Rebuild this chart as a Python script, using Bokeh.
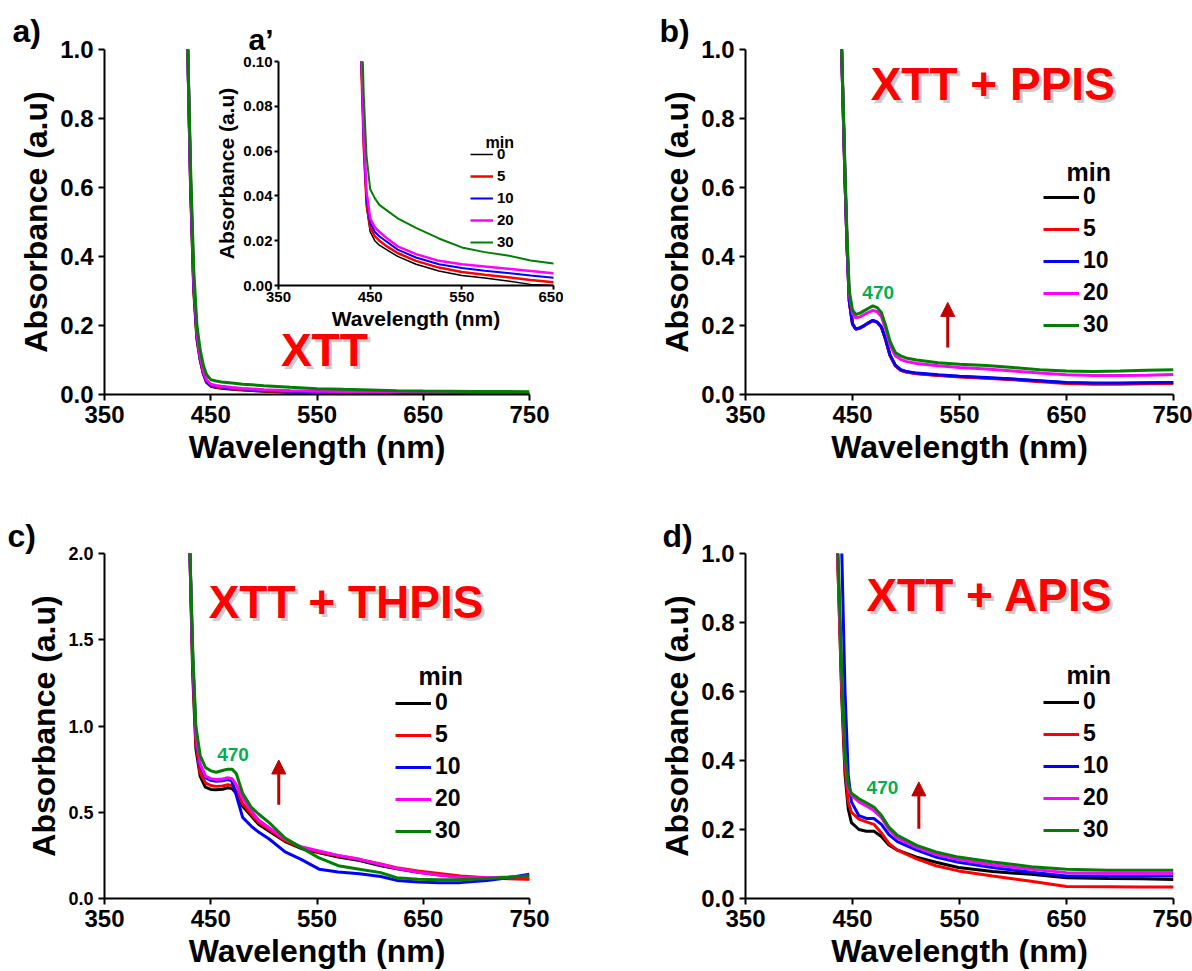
from bokeh.plotting import figure
from bokeh.models import (Label, Legend, LegendItem, Arrow, NormalHead, FixedTicker,
                          NumeralTickFormatter, Range1d, GridBox, Title)
from bokeh.embed import file_html
from bokeh.resources import INLINE

FONT = "Liberation Sans"

series_names = ["0", "5", "10", "20", "30"]
series_colors = ["#000000", "#FF0000", "#0000FF", "#FF00FF", "#008000"]

# ---------------- Panel a (XTT) and inset a' ----------------
wl_a = [428, 431, 434, 437, 440, 443, 446, 450, 455, 460, 470, 480, 500, 525, 550, 575, 600, 625, 650, 700, 750]
a_0 = [1.05, 0.60, 0.30, 0.16, 0.100, 0.060, 0.035, 0.024, 0.020, 0.018, 0.0155, 0.013, 0.0095, 0.0065, 0.0045, 0.0033, 0.0020, 0.0005, 0.0, 0.0, 0.0]
a_5 = [1.05, 0.61, 0.31, 0.165, 0.103, 0.062, 0.037, 0.026, 0.022, 0.020, 0.017, 0.0145, 0.011, 0.008, 0.006, 0.0048, 0.0037, 0.0025, 0.0015, 0.001, 0.001]
a_10 = [1.05, 0.62, 0.32, 0.17, 0.106, 0.065, 0.039, 0.028, 0.024, 0.022, 0.019, 0.016, 0.0125, 0.0095, 0.0078, 0.0066, 0.0056, 0.0045, 0.0035, 0.003, 0.003]
a_20 = [1.05, 0.63, 0.33, 0.175, 0.11, 0.068, 0.042, 0.030, 0.026, 0.024, 0.0205, 0.0175, 0.014, 0.011, 0.0095, 0.0085, 0.0075, 0.0065, 0.0055, 0.005, 0.0045]
a_30 = [1.05, 0.66, 0.36, 0.20, 0.13, 0.085, 0.058, 0.043, 0.039, 0.036, 0.033, 0.030, 0.0257, 0.021, 0.017, 0.0149, 0.0134, 0.0112, 0.0098, 0.009, 0.008]

# ---------------- Panel b (XTT + PPIS) ----------------
wl_b = [439, 441, 443, 445, 447, 450, 453, 457, 461, 465, 469, 473, 477, 481, 485, 490, 495, 500, 510, 530, 550, 575, 600, 625, 650, 675, 700, 725, 750]
b_0 = [1.10, 0.86, 0.62, 0.42, 0.27, 0.205, 0.190, 0.193, 0.200, 0.208, 0.215, 0.210, 0.196, 0.159, 0.114, 0.084, 0.071, 0.066, 0.061, 0.056, 0.052, 0.048, 0.044, 0.039, 0.034, 0.032, 0.032, 0.033, 0.034]
b_5 = [1.10, 0.86, 0.62, 0.42, 0.27, 0.204, 0.189, 0.192, 0.199, 0.207, 0.214, 0.209, 0.195, 0.158, 0.113, 0.083, 0.070, 0.065, 0.060, 0.055, 0.051, 0.047, 0.043, 0.037, 0.032, 0.030, 0.030, 0.031, 0.032]
b_10 = [1.10, 0.86, 0.62, 0.42, 0.27, 0.205, 0.190, 0.193, 0.200, 0.208, 0.215, 0.210, 0.196, 0.160, 0.115, 0.085, 0.072, 0.067, 0.062, 0.057, 0.053, 0.049, 0.045, 0.040, 0.035, 0.033, 0.033, 0.034, 0.035]
b_20 = [1.10, 0.87, 0.64, 0.44, 0.29, 0.235, 0.222, 0.225, 0.232, 0.238, 0.244, 0.240, 0.226, 0.190, 0.145, 0.112, 0.102, 0.096, 0.090, 0.083, 0.078, 0.074, 0.068, 0.062, 0.057, 0.055, 0.055, 0.056, 0.058]
b_30 = [1.10, 0.88, 0.65, 0.45, 0.30, 0.245, 0.232, 0.236, 0.243, 0.250, 0.257, 0.252, 0.238, 0.200, 0.155, 0.122, 0.112, 0.106, 0.100, 0.092, 0.088, 0.084, 0.078, 0.072, 0.068, 0.067, 0.068, 0.070, 0.072]

# ---------------- Panel c (XTT + THPIS) ----------------
wl_c = [430, 433, 436, 440, 445, 450, 455, 461, 466, 470, 474, 480, 488, 495, 505, 520, 535, 552, 570, 590, 610, 625, 645, 665, 685, 710, 730, 750]
c_0 = [2.1, 1.3, 0.87, 0.71, 0.645, 0.632, 0.63, 0.633, 0.642, 0.638, 0.61, 0.535, 0.48, 0.43, 0.39, 0.33, 0.29, 0.265, 0.24, 0.22, 0.19, 0.172, 0.152, 0.138, 0.125, 0.118, 0.116, 0.115]
c_5 = [2.1, 1.35, 0.90, 0.73, 0.67, 0.655, 0.65, 0.652, 0.66, 0.655, 0.625, 0.55, 0.49, 0.44, 0.40, 0.335, 0.295, 0.27, 0.248, 0.227, 0.20, 0.178, 0.16, 0.145, 0.13, 0.12, 0.115, 0.112]
c_10 = [2.1, 1.4, 0.95, 0.77, 0.70, 0.685, 0.68, 0.683, 0.69, 0.68, 0.60, 0.47, 0.42, 0.385, 0.345, 0.27, 0.227, 0.17, 0.153, 0.143, 0.128, 0.105, 0.095, 0.092, 0.092, 0.105, 0.12, 0.141]
c_20 = [2.1, 1.4, 0.95, 0.78, 0.71, 0.695, 0.69, 0.693, 0.70, 0.695, 0.66, 0.585, 0.51, 0.455, 0.41, 0.345, 0.30, 0.275, 0.25, 0.227, 0.197, 0.175, 0.152, 0.135, 0.122, 0.12, 0.125, 0.131]
c_30 = [2.1, 1.45, 1.0, 0.83, 0.76, 0.74, 0.732, 0.742, 0.75, 0.75, 0.725, 0.61, 0.53, 0.49, 0.44, 0.35, 0.295, 0.235, 0.19, 0.17, 0.15, 0.12, 0.112, 0.109, 0.108, 0.116, 0.123, 0.131]

# ---------------- Panel d (XTT + APIS) ----------------
wl_d = [434, 437, 440, 443, 446, 449, 456, 463, 470, 477, 484, 492, 510, 528, 549, 581, 617, 650, 689, 720, 750]
d_0 = [1.2, 0.9, 0.58, 0.36, 0.26, 0.22, 0.20, 0.195, 0.195, 0.18, 0.155, 0.14, 0.12, 0.105, 0.09, 0.078, 0.07, 0.06, 0.058, 0.057, 0.055]
d_5 = [1.2, 0.9, 0.60, 0.38, 0.28, 0.25, 0.23, 0.222, 0.215, 0.19, 0.16, 0.14, 0.115, 0.095, 0.08, 0.065, 0.05, 0.035, 0.034, 0.033, 0.033]
d_10 = [1.4, 1.2, 1.0, 0.6, 0.36, 0.28, 0.24, 0.232, 0.232, 0.215, 0.185, 0.165, 0.14, 0.12, 0.105, 0.09, 0.076, 0.065, 0.065, 0.065, 0.065]
d_20 = [1.2, 0.93, 0.63, 0.41, 0.32, 0.30, 0.28, 0.268, 0.255, 0.235, 0.20, 0.175, 0.148, 0.128, 0.113, 0.098, 0.085, 0.075, 0.073, 0.073, 0.073]
d_30 = [1.2, 0.95, 0.65, 0.42, 0.33, 0.305, 0.289, 0.277, 0.265, 0.241, 0.207, 0.183, 0.154, 0.135, 0.12, 0.106, 0.092, 0.085, 0.082, 0.082, 0.082]

x_ticks = [350, 450, 550, 650, 750]
inset_x_ticks = [350, 450, 550, 650]


def make_fig(w, h, bl, br, bt, bb, xr, yr, xticks, yticks, yfmt,
             tick_font, ytick_font, label_font, lw=2, tick_out=6, std=5, lab_std=3):
    p = figure(width=w, height=h, x_range=Range1d(*xr), y_range=Range1d(*yr),
               output_backend="svg", toolbar_location=None,
               min_border_left=bl, min_border_right=br, min_border_top=bt, min_border_bottom=bb,
               x_axis_label="Wavelength (nm)", y_axis_label="Absorbance (a.u)")
    p.grid.visible = False
    p.outline_line_color = None
    p.xaxis.ticker = FixedTicker(ticks=xticks)
    p.yaxis.ticker = FixedTicker(ticks=yticks)
    p.yaxis.formatter = NumeralTickFormatter(format=yfmt)
    for ax, fs in ((p.xaxis[0], tick_font), (p.yaxis[0], ytick_font)):
        ax.axis_line_width = lw
        ax.axis_line_color = "black"
        ax.major_tick_line_width = lw
        ax.major_tick_out = tick_out
        ax.major_tick_in = 0
        ax.minor_tick_out = 0
        ax.minor_tick_in = 0
        ax.major_label_text_font = FONT
        ax.major_label_text_font_style = "bold"
        ax.major_label_text_font_size = fs
        ax.major_label_text_color = "black"
        ax.major_label_standoff = std
        ax.axis_label_text_font = FONT
        ax.axis_label_text_font_style = "bold"
        ax.axis_label_text_font_size = label_font
        ax.axis_label_text_color = "black"
        ax.axis_label_standoff = lab_std
    return p


def add_series(p, wl, ys, widths):
    rs = []
    for y, c, lw in zip(ys, series_colors, widths):
        rs.append(p.line(wl, y, line_color=c, line_width=lw))
    return rs


def add_legend(p, rs, loc, fs, gw, gh, spacing, title_x, title_y, title_fs):
    items = [LegendItem(label=n, renderers=[r]) for n, r in zip(series_names, rs)]
    lg = Legend(items=items, location=loc, padding=0, margin=0, spacing=spacing,
                glyph_width=gw, glyph_height=gh, label_height=gh, label_standoff=4,
                label_text_font=FONT, label_text_font_style="bold", label_text_font_size=fs,
                label_text_color="black",
                border_line_alpha=0, background_fill_alpha=0)
    p.add_layout(lg)
    p.add_layout(Label(x=title_x, y=title_y, x_units="screen", y_units="screen", text="min",
                       text_font=FONT, text_font_style="bold", text_font_size=title_fs,
                       text_color="black", text_baseline="middle"))


def add_title(p, x, y, text):
    p.add_layout(Label(x=x, y=y, text=text, x_offset=3, y_offset=-3, text_color="#9a9a9a",
                       text_alpha=0.5, text_font=FONT, text_font_style="bold",
                       text_font_size="46px", text_baseline="middle"))
    p.add_layout(Label(x=x, y=y, text=text, text_color="#FF0000", text_font=FONT,
                       text_font_style="bold", text_font_size="46px", text_baseline="middle"))


def add_letter(p, offset, text, fs="32px", standoff=2):
    p.add_layout(Title(text=text, align="left", offset=offset, text_font=FONT,
                       text_font_style="bold", text_font_size=fs, text_color="black",
                       standoff=standoff), "above")


def add_peak(p, x, y, text="470"):
    p.add_layout(Label(x=x, y=y, text=text, text_color="#00B050", text_font=FONT,
                       text_font_style="bold", text_font_size="19px", text_align="center",
                       text_baseline="middle"))


def add_arrow(p, x, y0, y1):
    p.add_layout(Arrow(x_start=x, y_start=y0, x_end=x, y_end=y1, line_color="#C00000", line_width=3,
                       end=NormalHead(size=14, fill_color="#C00000", line_color="#C00000", line_width=1)))


main_widths = [3, 3, 3, 3, 3]

# Panel a
pa = make_fig(596, 480, 104, 67, 49, 86, (350, 750), (0, 1), x_ticks,
              [0, 0.2, 0.4, 0.6, 0.8, 1.0], "0.0", "24px", "24px", "32px")
ra = add_series(pa, wl_a, [a_0, a_5, a_10, a_20, a_30], main_widths)
add_title(pa, 516, 0.13, "XTT")
add_letter(pa, -92, "a)")

# Panel b
pb = make_fig(596, 480, 149, 19, 49, 86, (350, 750), (0, 1), x_ticks,
              [0, 0.2, 0.4, 0.6, 0.8, 1.0], "0.0", "24px", "24px", "32px")
rb = add_series(pb, wl_b, [b_0, b_5, b_10, b_20, b_30], main_widths)
add_legend(pb, rb, (298, 56), "23px", 36, 26, 5, 321, 223, "25px")
add_title(pb, 467, 0.90, "XTT + PPIS")
add_peak(pb, 474, 0.297)
add_arrow(pb, 539, 0.136, 0.267)
add_letter(pb, -86, "b)")

# Panel c
pc = make_fig(596, 491, 104, 67, 73, 72, (350, 750), (0, 2), x_ticks,
              [0, 0.5, 1.0, 1.5, 2.0], "0.0", "24px", "18px", "32px")
rc = add_series(pc, wl_c, [c_0, c_5, c_10, c_20, c_30], main_widths)
add_legend(pc, rc, (291, 54), "23px", 36, 26, 5, 314, 223, "25px")
add_title(pc, 448, 1.717, "XTT + THPIS")
add_peak(pc, 471, 0.832)
add_arrow(pc, 514, 0.543, 0.803)
add_letter(pc, -97, "c)", standoff=0)

# Panel d
pd_ = make_fig(596, 491, 149, 19, 73, 72, (350, 750), (0, 1), x_ticks,
               [0, 0.2, 0.4, 0.6, 0.8, 1.0], "0.0", "24px", "24px", "32px")
rd = add_series(pd_, wl_d, [d_0, d_5, d_10, d_20, d_30], main_widths)
add_legend(pd_, rd, (298, 55), "23px", 36, 26, 5, 321, 224, "25px")
add_title(pd_, 463, 0.881, "XTT + APIS")
add_peak(pd_, 478, 0.322)
add_arrow(pd_, 512, 0.202, 0.338)
add_letter(pd_, -83, "d)", standoff=0)

grid = GridBox(children=[(pa, 0, 0), (pb, 0, 1), (pc, 1, 0), (pd_, 1, 1)], spacing=0)

# Inset a' : separate root, absolutely positioned over panel a, transparent background
pin = make_fig(563, 335, 278, 10, 61, 50, (350, 650), (0, 0.1), inset_x_ticks,
               [0, 0.02, 0.04, 0.06, 0.08, 0.10], "0.00", "15px", "15px", "21px",
               lw=2, tick_out=4, std=2, lab_std=2)
pin.background_fill_alpha = 0
pin.border_fill_alpha = 0
pin.styles = {"position": "absolute", "left": "0px", "top": "0px", "z-index": "5"}
rin = add_series(pin, wl_a, [a_0, a_5, a_10, a_20, a_30], [1.5, 2.5, 2, 2.5, 2])
add_legend(pin, rin, (192, 35), "15px", 23, 16, 5, 207, 143, "16px")
add_letter(pin, -30, "a\u2019", fs="30px", standoff=12)

open("out.html", "w").write(file_html([grid, pin], INLINE))
